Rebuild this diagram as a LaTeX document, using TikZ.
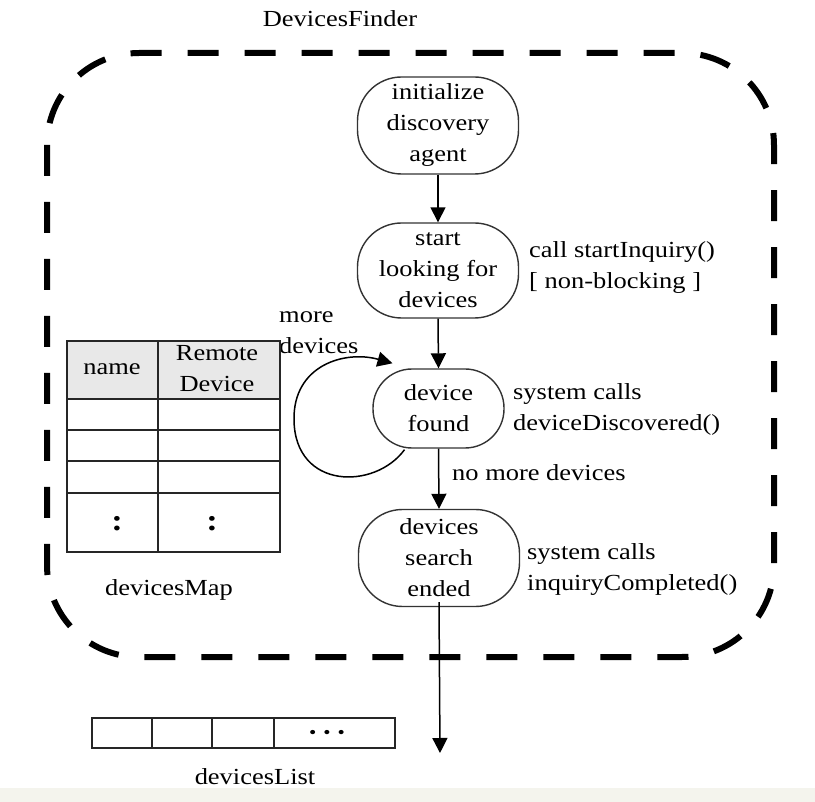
\documentclass[tikz,border=0pt]{standalone}
\usepackage{fontspec}
\setmainfont[FakeStretch=1.15]{Liberation Serif}
\usetikzlibrary{arrows.meta,calc}

\begin{document}
\begin{tikzpicture}[x=1pt,y=-1pt,
  every node/.style={font=\fontsize{23}{31}\selectfont, inner sep=0pt},
  state/.style={draw=black!80, line width=1.4pt, rounded corners=44pt,
    minimum width=161pt, minimum height=97pt, align=center},
  smallstate/.style={state, rounded corners=39pt, minimum width=131pt, minimum height=79pt},
  note/.style={align=left, anchor=west},
  arr/.style={line width=1.5pt, -{Triangle[length=15pt,width=15pt]}},
  boundary/.style={line width=6pt, dash pattern=on 31pt off 26pt, rounded corners=92pt},
  grid/.style={line width=1.4pt, draw=black!85},
  headfill/.style={fill=black!9}]

% canvas and bottom strip
\useasboundingbox (0,0) rectangle (815,802);
\fill[white] (0,0) rectangle (815,802);
\fill[black!5!white!97!yellow] (0,788) rectangle (815,802);

% component boundary
\node (title) at (340,19) {DevicesFinder};
\draw[boundary] (47,53) rectangle (774,657);

% states
\node[state] (init) at (438,125.5) {initialize\\discovery\\agent};
\node[state, minimum height=95pt] (start) at (438,270.5) {start\\looking for\\devices};
\node[smallstate] (found) at (438.5,408.5) {device\\found};
\node[state] (ended) at (439,558) {devices\\search\\ended};
\coordinate (out) at (440,753);

% annotations
\node[note] (n1) at (529,268) {call startInquiry()\\{[} non-blocking ]};
\node[note] (n2) at (513,409) {system calls\\deviceDiscovered()};
\node[note] (n3) at (527,570) {system calls\\inquiryCompleted()};
\node[note] (n4) at (452,473) {no more devices};
\node[note] (n5) at (279,333) {more\\devices};

% transitions
\draw[arr] (init.south) -- (start.north);
\draw[arr] (start.south) -- (found.north);
\draw[arr] (found.south) -- (ended.north);
\draw[arr] ([yshift=5pt]ended.south) -- (out);
\draw[arr] ([xshift=-34pt,yshift=-1pt]found.south)
  .. controls (375,490) and (295,490) .. (294,420)
  .. controls (293,365) and (345,350) .. ([xshift=-46pt,yshift=5pt]found.north);

% devicesMap table
\fill[headfill] (67,341) rectangle (280,399);
\draw[grid] (67,341) rectangle (280,552);
\draw[grid] (158,341) -- (158,552);
\foreach \yy in {399,430,461,493} \draw[grid] (67,\yy) -- (280,\yy);
\node (hname) at (112,369) {name};
\node[align=center] (hdev) at (217,369) {Remote\\Device};
\node[font=\fontsize{30}{30}\selectfont\bfseries] (c1) at (117,524) {:};
\node[font=\fontsize{30}{30}\selectfont\bfseries] (c2) at (212,524) {:};
\node (maplabel) at (169,590) {devicesMap};

% devicesList array
\draw[grid] (92,718) rectangle (395,748);
\foreach \xx in {152,212,274} \draw[grid] (\xx,718) -- (\xx,748);
\node[font=\fontsize{18}{18}\selectfont] (dots) at (327,734) {\textbullet\kern7pt\textbullet\kern7pt\textbullet};
\node (listlabel) at (255,777) {devicesList};
\end{tikzpicture}
\end{document}
